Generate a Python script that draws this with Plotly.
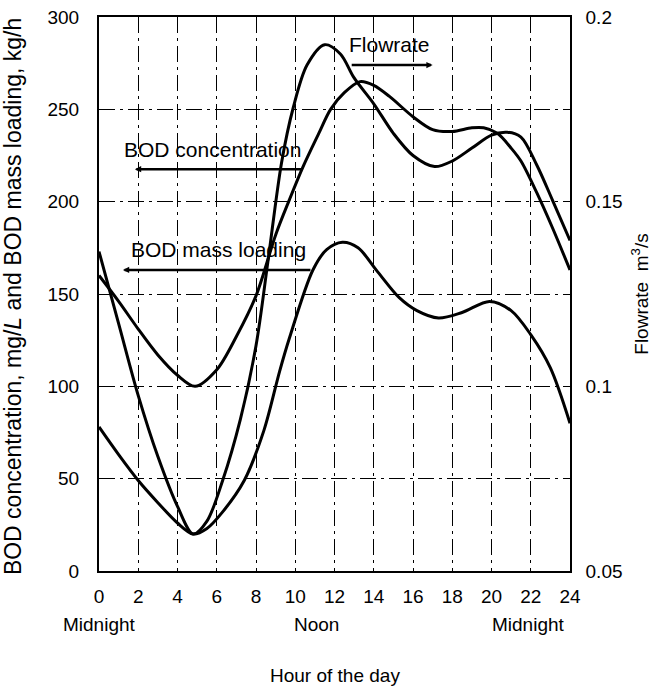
import plotly.graph_objects as go

# ---- data ----
hours_flow = [0, 1, 2, 3, 4, 4.8, 5.5, 6.3, 7.2, 8, 8.6, 9.3, 9.9, 10.6, 11.5, 12.3, 13, 14, 15, 16, 17.1, 18, 19, 20, 20.8, 21.5, 22.3, 23.1, 24]
flowrate_m3s = [0.1365, 0.117, 0.0975, 0.081, 0.0675, 0.06, 0.0635, 0.0745, 0.091, 0.111, 0.1335, 0.1605, 0.1755, 0.187, 0.1925,
                0.19, 0.1835, 0.1765, 0.1685, 0.1625, 0.1595, 0.161, 0.1645, 0.168, 0.1688, 0.1675, 0.16, 0.1505, 0.1395]

hours_conc = [0, 1, 2, 3, 4, 4.9, 6, 7, 8, 9, 9.7, 10.4, 11.2, 11.8, 12.5, 13.3, 14, 14.8, 16, 17, 18, 19, 19.6, 20.3, 21, 21.5, 22.3, 23.1, 24]
bod_conc = [160, 146, 131, 117, 106, 100, 109, 127, 149, 182, 201, 219, 237, 250, 259, 265, 263, 257, 246, 239, 238, 240, 240, 237, 229, 222, 205, 186, 163]

hours_mass = [0, 1, 2, 3, 4, 4.8, 5.5, 6.3, 7.4, 8.4, 9.2, 9.7, 10.9, 11.6, 12.4, 13.2, 14.2, 15.3, 16.2, 17.3, 18.5, 19.9, 21, 22, 23, 24]
bod_mass = [78, 63, 49, 37, 26, 20, 23, 32, 49, 76, 108, 126, 163, 174, 178, 175, 162, 148, 141, 137, 140, 146, 141, 128, 110, 80]

x_ticks = list(range(0, 25, 2))
left_ticks = [0, 50, 100, 150, 200, 250, 300]
right_ticks = [0.05, 0.1, 0.15, 0.2]
right_tick_text = ["0.05", "0.1", "0.15", "0.2"]

FONT = "Liberation Sans, Arial, Helvetica, sans-serif"
LINE = dict(color="black", width=3, shape="spline", smoothing=0.9)
GRIDDASH = "16px,5px,3px,5px"

fig = go.Figure()
fig.add_trace(go.Scatter(x=hours_conc, y=bod_conc, mode="lines", line=LINE, name="BOD concentration"))
fig.add_trace(go.Scatter(x=hours_mass, y=bod_mass, mode="lines", line=LINE, name="BOD mass loading"))
fig.add_trace(go.Scatter(x=hours_flow, y=flowrate_m3s, mode="lines", line=LINE, name="Flowrate", yaxis="y2"))

fig.update_layout(
    width=653, height=691,
    margin=dict(l=99, r=83, t=17, b=120, autoexpand=False),
    paper_bgcolor="white", plot_bgcolor="white",
    showlegend=False,
    font=dict(family=FONT, size=19, color="black"),
    xaxis=dict(range=[0, 24], tickvals=x_ticks, showgrid=True, gridcolor="black", griddash=GRIDDASH, gridwidth=1,
               showline=True, linecolor="black", linewidth=1.5, mirror=True, ticks="", zeroline=False,
               automargin=False, ticklabelstandoff=7, ticklabeloverflow="allow", tickfont=dict(size=19)),
    yaxis=dict(range=[0, 300], tickvals=left_ticks, showgrid=True, gridcolor="black", griddash=GRIDDASH, gridwidth=1,
               showline=True, linecolor="black", linewidth=2, mirror=True, ticks="", zeroline=False,
               automargin=False, ticklabelstandoff=14, ticklabeloverflow="allow", tickfont=dict(size=19)),
    yaxis2=dict(range=[0.05, 0.2], tickvals=right_ticks, ticktext=right_tick_text, overlaying="y", side="right",
                showgrid=False, showline=True, linecolor="black", linewidth=1.5, ticks="", zeroline=False,
                automargin=False, ticklabelstandoff=10, ticklabeloverflow="allow", tickfont=dict(size=19)),
)

# axis titles and x labels as annotations
ann = []
ann.append(dict(text="BOD concentration, mg/<i>L</i> and BOD mass loading, kg/h", xref="paper", yref="paper",
                x=-0.184, y=0.495, textangle=-90, showarrow=False, font=dict(size=23), xanchor="center", yanchor="middle"))
ann.append(dict(text="Flowrate  m<sup>3</sup>/s", xref="paper", yref="paper", x=1.148, y=0.5, textangle=-90,
                showarrow=False, font=dict(size=19), xanchor="center", yanchor="middle"))
ann.append(dict(text="Hour of the day", xref="paper", yref="paper", x=0.5, y=-0.188, showarrow=False,
                font=dict(size=19), xanchor="center", yanchor="middle"))
for hx, t in [(0, "Midnight"), (11.1, "Noon"), (21.9, "Midnight")]:
    ann.append(dict(text=t, x=hx, xref="x", yref="paper", y=-0.097, showarrow=False, font=dict(size=19),
                    xanchor="center", yanchor="middle"))

# curve labels with arrows
labels = [("Flowrate", 14.8, 285), ("BOD concentration", 5.76, 228.5), ("BOD mass loading", 6.1, 174)]
for t, lx, ly in labels:
    ann.append(dict(text=t, x=lx, y=ly, xref="x", yref="y", showarrow=False, font=dict(size=21)))
arrows = [((17.0, 274), (12.8, 274)), ((1.83, 217.6), (10.4, 217.6)), ((1.22, 163), (10.85, 163))]
for (hx, hy), (tx, ty) in arrows:
    ann.append(dict(x=hx, y=hy, ax=tx, ay=ty, xref="x", yref="y", axref="x", ayref="y", text="",
                    showarrow=True, arrowhead=2, arrowsize=0.5, arrowwidth=2.5, arrowcolor="black"))
fig.update_layout(annotations=ann)

fig.write_html("out.html", config={"displayModeBar": False},
               post_script="document.body.style.margin='0';document.body.style.overflow='hidden';")
